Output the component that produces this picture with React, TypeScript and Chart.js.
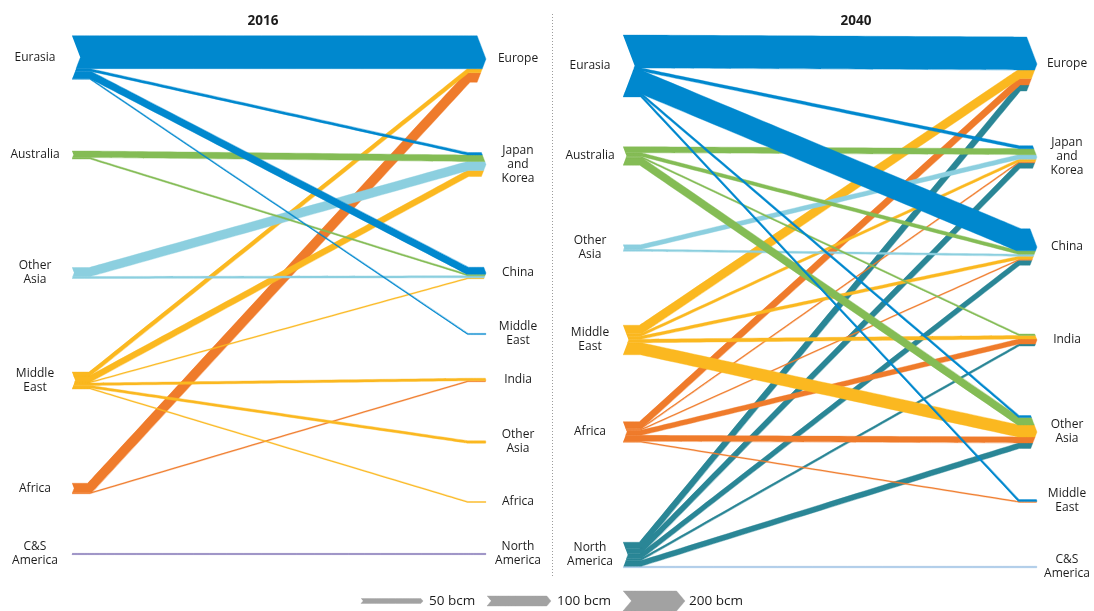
import React, { useEffect, useRef } from "react";
import { Chart, registerables } from "chart.js";

Chart.register(...registerables);

const CANVAS_W = 1094;
const CANVAS_H = 611;
const PX_PER_BCM = 0.1;

// ---------------- 2016 ----------------
const sources2016 = ["Eurasia", "Australia", "Other Asia", "Middle East", "Africa", "C&S America"];
const sourceLabels2016 = ["Eurasia", "Australia", "Other\nAsia", "Middle\nEast", "Africa", "C&S\nAmerica"];
const sourceRows2016 = [57.5, 155, 273, 380.5, 488.5, 554];
const sourceColors2016 = ["#0088ce", "#84bc55", "#8ccfdf", "#fbb820", "#ef7b2b", "#7566ad"];
const dests2016 = ["Europe", "Japan and Korea", "China", "Middle East", "India", "Other Asia", "Africa", "North America"];
const destLabels2016 = ["Europe", "Japan\nand\nKorea", "China", "Middle\nEast", "India", "Other\nAsia", "Africa", "North\nAmerica"];
const destRows2016 = [59, 164.5, 273, 334, 380, 442, 502, 554];
// [source, destination, bcm]
const flows2016: [string, string, number][] = [
  ["Eurasia", "Europe", 330],
  ["Eurasia", "Japan and Korea", 25],
  ["Eurasia", "China", 70],
  ["Eurasia", "Middle East", 12],
  ["Australia", "Japan and Korea", 65],
  ["Australia", "China", 15],
  ["Other Asia", "Japan and Korea", 90],
  ["Other Asia", "China", 20],
  ["Middle East", "Europe", 40],
  ["Middle East", "Japan and Korea", 60],
  ["Middle East", "China", 10],
  ["Middle East", "India", 25],
  ["Middle East", "Other Asia", 25],
  ["Middle East", "Africa", 10],
  ["Africa", "Europe", 95],
  ["Africa", "India", 10],
  ["C&S America", "North America", 12],
];

// ---------------- 2040 ----------------
const sources2040 = ["Eurasia", "Australia", "Other Asia", "Middle East", "Africa", "North America"];
const sourceLabels2040 = ["Eurasia", "Australia", "Other\nAsia", "Middle\nEast", "Africa", "North\nAmerica"];
const sourceRows2040 = [66, 156, 248, 340, 432, 555];
const sourceColors2040 = ["#0088ce", "#84bc55", "#8ccfdf", "#fbb820", "#ef7b2b", "#2a8696"];
const dests2040 = ["Europe", "Japan and Korea", "China", "India", "Other Asia", "Middle East", "C&S America"];
const destLabels2040 = ["Europe", "Japan\nand\nKorea", "China", "India", "Other\nAsia", "Middle\nEast", "C&S\nAmerica"];
const destRows2040 = [64, 157, 247, 340, 432, 501, 567];
const flows2040: [string, string, number][] = [
  ["Eurasia", "Europe", 330],
  ["Eurasia", "Japan and Korea", 30],
  ["Eurasia", "China", 220],
  ["Eurasia", "Other Asia", 20],
  ["Eurasia", "Middle East", 18],
  ["Australia", "Japan and Korea", 60],
  ["Australia", "China", 35],
  ["Australia", "India", 15],
  ["Australia", "Other Asia", 75],
  ["Other Asia", "Japan and Korea", 45],
  ["Other Asia", "China", 20],
  ["Middle East", "Europe", 85],
  ["Middle East", "Japan and Korea", 25],
  ["Middle East", "China", 30],
  ["Middle East", "India", 35],
  ["Middle East", "Other Asia", 120],
  ["Africa", "Europe", 65],
  ["Africa", "Japan and Korea", 12],
  ["Africa", "China", 10],
  ["Africa", "India", 50],
  ["Africa", "Other Asia", 60],
  ["Africa", "Middle East", 10],
  ["North America", "Europe", 60],
  ["North America", "Japan and Korea", 55],
  ["North America", "China", 50],
  ["North America", "India", 20],
  ["North America", "Other Asia", 55],
  ["North America", "C&S America", 15],
];
const flowColorOverrides2040: Record<string, string> = {
  "North America>C&S America": "#a4c6e6",
};

// ---------------- legend ----------------
const legendValues = [50, 100, 200];
const legendLabels = ["50 bcm", "100 bcm", "200 bcm"];

// ---------------- layout (not data) ----------------
const panelLayouts = [
  { title: "2016", titleX: 263, xLeft: 72, xTip: 486, stub: 18, srcLabelX: 35, dstLabelX: 518 },
  { title: "2040", titleX: 856, xLeft: 623, xTip: 1037, stub: 18, srcLabelX: 590, dstLabelX: 1067 },
];
const TITLE_Y = 21.5;
const NODE_TIP_FACTOR = 0.19;
const legendLeft = [361, 487, 623];
const legendRight = [423, 551, 685];
const legendTextX = [429, 557, 689];
const LEGEND_Y = 601;
const LEGEND_TIP_FACTOR = 0.42;
const DIVIDER_X = 552.5;
const DIVIDER_TOP = 14;
const DIVIDER_BOTTOM = 578;

type Pt = { x: number; y: number };

interface ShapeArgs {
  xL: number; xR: number; stub: number;
  sA: number; sB: number; sC: number; sH: number;
  dA: number; dB: number; dC: number; dH: number;
  fac: number;
}

function flowShape(o: ShapeArgs): Pt[] {
  const h = (o.sB - o.sA) / 2;
  const yS = (o.sA + o.sB) / 2;
  const yD = (o.dA + o.dB) / 2;
  const sDepth = o.fac * o.sH;
  const dDepth = o.fac * o.dH;
  const notch = (y: number) =>
    o.xL + sDepth * Math.max(0, 1 - Math.abs(y - o.sC) / (o.sH / 2));
  const tip = (y: number) =>
    o.xR - dDepth + dDepth * Math.max(0, 1 - Math.abs(y - o.dC) / (o.dH / 2));
  const P1 = { x: o.xL + o.stub, y: yS };
  const P2 = { x: o.xR - o.stub, y: yD };
  const dx = P2.x - P1.x;
  const dy = P2.y - P1.y;
  const L = Math.hypot(dx, dy) || 1;
  const ux = dx / L;
  const uy = dy / L;
  // miter between the stub normal (0,-1) and the middle segment normal (uy,-ux)
  const mx0 = uy;
  const my0 = -1 - ux;
  const ml = Math.hypot(mx0, my0) || 1;
  const ax = mx0 / ml;
  const ay = my0 / ml;
  const s = h / (ay * -1);
  const m = { x: ax * s, y: ay * s };
  const pts: Pt[] = [];
  pts.push({ x: notch(o.sA), y: o.sA });
  pts.push({ x: P1.x + m.x, y: P1.y + m.y });
  pts.push({ x: P2.x + m.x, y: P2.y + m.y });
  pts.push({ x: tip(o.dA), y: o.dA });
  if (o.dA < o.dC && o.dC < o.dB) pts.push({ x: o.xR, y: o.dC });
  pts.push({ x: tip(o.dB), y: o.dB });
  pts.push({ x: P2.x - m.x, y: P2.y - m.y });
  pts.push({ x: P1.x - m.x, y: P1.y - m.y });
  pts.push({ x: notch(o.sB), y: o.sB });
  if (o.sA < o.sC && o.sC < o.sB) pts.push({ x: o.xL + sDepth, y: o.sC });
  return pts;
}

function buildPanelDatasets(
  layout: typeof panelLayouts[number],
  sources: string[], sourceRows: number[], sourceColors: string[],
  dests: string[], destRows: number[],
  flows: [string, string, number][],
  overrides: Record<string, string>
) {
  const srcTot = sources.map((s) =>
    flows.filter((f) => f[0] === s).reduce((a, f) => a + f[2] * PX_PER_BCM, 0)
  );
  const dstTot = dests.map((d) =>
    flows.filter((f) => f[1] === d).reduce((a, f) => a + f[2] * PX_PER_BCM, 0)
  );
  const srcPos = new Map<number, [number, number]>();
  const dstPos = new Map<number, [number, number]>();
  const idx = flows.map((_, i) => i);
  sources.forEach((s, si) => {
    let cur = sourceRows[si] - srcTot[si] / 2;
    idx
      .filter((i) => flows[i][0] === s)
      .sort((a, b) => dests.indexOf(flows[a][1]) - dests.indexOf(flows[b][1]))
      .forEach((i) => {
        const w = flows[i][2] * PX_PER_BCM;
        srcPos.set(i, [cur, cur + w]);
        cur += w;
      });
  });
  dests.forEach((d, di) => {
    let cur = destRows[di] - dstTot[di] / 2;
    idx
      .filter((i) => flows[i][1] === d)
      .sort((a, b) => sources.indexOf(flows[a][0]) - sources.indexOf(flows[b][0]))
      .forEach((i) => {
        const w = flows[i][2] * PX_PER_BCM;
        dstPos.set(i, [cur, cur + w]);
        cur += w;
      });
  });
  return flows.map((f, i) => {
    const si = sources.indexOf(f[0]);
    const di = dests.indexOf(f[1]);
    const [sA, sB] = srcPos.get(i)!;
    const [dA, dB] = dstPos.get(i)!;
    const pts = flowShape({
      xL: layout.xLeft, xR: layout.xTip, stub: layout.stub,
      sA, sB, sC: sourceRows[si], sH: srcTot[si],
      dA, dB, dC: destRows[di], dH: dstTot[di],
      fac: NODE_TIP_FACTOR,
    });
    const color = overrides[f[0] + ">" + f[1]] || sourceColors[si];
    return {
      label: layout.title + " " + f[0] + " > " + f[1],
      data: pts,
      borderColor: color,
      backgroundColor: color,
      borderWidth: 0.4,
      pointRadius: 0,
      pointHoverRadius: 0,
      fill: "shape",
      tension: 0.000001,
    };
  });
}

function buildLegendDatasets() {
  return legendValues.map((v, i) => {
    const hgt = v * PX_PER_BCM;
    const pts = flowShape({
      xL: legendLeft[i], xR: legendRight[i], stub: 12,
      sA: LEGEND_Y - hgt / 2, sB: LEGEND_Y + hgt / 2, sC: LEGEND_Y, sH: hgt,
      dA: LEGEND_Y - hgt / 2, dB: LEGEND_Y + hgt / 2, dC: LEGEND_Y, dH: hgt,
      fac: LEGEND_TIP_FACTOR,
    });
    return {
      label: legendLabels[i],
      data: pts,
      borderColor: "#a2a2a2",
      backgroundColor: "#a2a2a2",
      borderWidth: 0.4,
      pointRadius: 0,
      fill: "shape",
      tension: 0.000001,
    };
  });
}

const FONT = '"Open Sans", "Noto Sans", sans-serif';

const textPlugin = {
  id: "flowText",
  afterDraw(chart: any) {
    const { ctx } = chart;
    const xs = chart.scales.x;
    const ys = chart.scales.y;
    ctx.save();
    ctx.fillStyle = "#1c1c1c";
    ctx.textBaseline = "middle";
    ctx.textAlign = "center";
    const drawLabel = (text: string, xv: number, yv: number) => {
      const lines = text.split("\n");
      const lh = 14;
      const y0 = ys.getPixelForValue(yv) - ((lines.length - 1) * lh) / 2;
      lines.forEach((l, i) => ctx.fillText(l, xs.getPixelForValue(xv), y0 + i * lh));
    };
    ctx.font = "bold 13.5px " + FONT;
    panelLayouts.forEach((p) => drawLabel(p.title, p.titleX, TITLE_Y));
    ctx.font = "12px " + FONT;
    const panels = [
      { p: panelLayouts[0], sl: sourceLabels2016, sr: sourceRows2016, dl: destLabels2016, dr: destRows2016 },
      { p: panelLayouts[1], sl: sourceLabels2040, sr: sourceRows2040, dl: destLabels2040, dr: destRows2040 },
    ];
    panels.forEach(({ p, sl, sr, dl, dr }) => {
      sl.forEach((t, i) => drawLabel(t, p.srcLabelX, sr[i]));
      dl.forEach((t, i) => drawLabel(t, p.dstLabelX, dr[i]));
    });
    ctx.font = "13.5px " + FONT;
    ctx.textAlign = "left";
    legendLabels.forEach((t, i) => {
      ctx.fillText(t, xs.getPixelForValue(legendTextX[i]), ys.getPixelForValue(LEGEND_Y));
    });
    ctx.restore();
  },
};

export default function App() {
  const canvasRef = useRef<HTMLCanvasElement | null>(null);

  useEffect(() => {
    const canvas = canvasRef.current;
    if (!canvas) return;
    const datasets: any[] = [
      ...buildPanelDatasets(panelLayouts[0], sources2016, sourceRows2016, sourceColors2016, dests2016, destRows2016, flows2016, {}),
      ...buildPanelDatasets(panelLayouts[1], sources2040, sourceRows2040, sourceColors2040, dests2040, destRows2040, flows2040, flowColorOverrides2040),
      ...buildLegendDatasets(),
      {
        label: "divider",
        data: [
          { x: DIVIDER_X, y: DIVIDER_TOP },
          { x: DIVIDER_X, y: DIVIDER_BOTTOM },
        ],
        borderColor: "#9c9c9c",
        borderWidth: 1,
        borderDash: [1, 2],
        pointRadius: 0,
        fill: false,
      },
    ];
    const chart = new Chart(canvas, {
      type: "line",
      data: { datasets },
      options: {
        responsive: false,
        maintainAspectRatio: false,
        animation: false,
        events: [],
        layout: { padding: 0 },
        plugins: {
          legend: { display: false },
          tooltip: { enabled: false },
          title: { display: false },
        },
        scales: {
          x: { type: "linear", min: 0, max: CANVAS_W, display: false },
          y: { type: "linear", min: 0, max: CANVAS_H, reverse: true, display: false },
        },
      },
      plugins: [textPlugin],
    } as any);
    return () => chart.destroy();
  }, []);

  return (
    <div style={{ position: "fixed", left: 0, top: 0, width: CANVAS_W, height: CANVAS_H, background: "#fff" }}>
      <canvas ref={canvasRef} width={CANVAS_W} height={CANVAS_H} style={{ display: "block" }} />
    </div>
  );
}
